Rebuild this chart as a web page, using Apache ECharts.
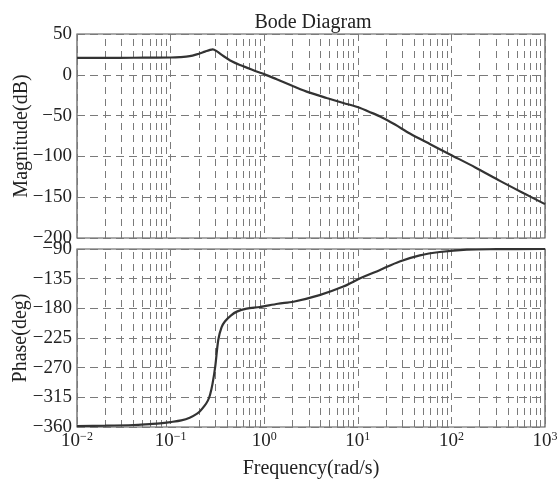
<!DOCTYPE html>
<html>
<head>
<meta charset="utf-8">
<script src="https://cdn.jsdelivr.net/npm/echarts@6/dist/echarts.min.js"></script>
<style>html,body{margin:0;padding:0;background:#fff;}#c{width:557px;height:479px;}</style>
</head>
<body>
<div id="c"></div>
<script>
// ---- data ----
var magFreq = [0.01, 0.02, 0.04, 0.07, 0.1, 0.126, 0.16, 0.19, 0.233, 0.264, 0.282, 0.31, 0.366, 0.45, 0.55, 0.7, 0.83, 1.0, 1.36, 2.05, 3.0, 4.65, 7.0, 10.6, 13, 17.3, 25, 36, 60, 96.6, 180, 330, 600, 1000];
var magDb = [20.8, 20.8, 20.9, 21.0, 21.2, 21.7, 22.8, 25, 28.4, 30.5, 31.2, 29, 23, 16.5, 12, 7.5, 4, 0.8, -5.5, -14, -21.5, -28.4, -34.5, -40.6, -45, -51, -61, -72, -85.3, -97.6, -113.5, -130, -145.5, -158.5];
var phFreq = [0.01, 0.02, 0.04, 0.06, 0.077, 0.1, 0.13, 0.16, 0.19, 0.206, 0.23, 0.25, 0.264, 0.28, 0.3, 0.323, 0.35, 0.38, 0.44, 0.51, 0.65, 0.9, 1.4, 2.05, 3.9, 7.0, 10.6, 17.3, 28, 46, 75, 146, 300, 1000];
var phDeg = [-358.5, -358, -357, -355.5, -354.5, -352.5, -350, -346, -340, -336, -328, -320, -311, -295, -268, -228, -209, -200, -191, -185, -180.5, -178, -173, -170, -160, -147, -134.5, -121.7, -109, -99.7, -94.6, -91, -90.3, -90];
var decades = [0.01, 0.1, 1, 10, 100, 1000];
var magTicks = [-200, -150, -100, -50, 0, 50];
var phTicks = [-360, -315, -270, -225, -180, -135, -90];

var FONT = 'Liberation Serif';
var GRID_COLOR = '#7a7a7a';

function pairs(xs, ys) { return xs.map(function (x, i) { return [x, ys[i]]; }); }
function minorLines() {
  var out = [];
  for (var d = 0; d < decades.length - 1; d++) {
    for (var k = 2; k <= 9; k++) out.push({ xAxis: decades[d] * k });
  }
  return out;
}
function minus(v) { return String(v).replace('-', '\u2212'); }

var chart = echarts.init(document.getElementById('c'), null, { renderer: 'canvas' });

var markLineCfg = {
  silent: true, symbol: ['none', 'none'], label: { show: false },
  lineStyle: { color: GRID_COLOR, type: [7, 5], width: 1 },
  animation: false,
  data: minorLines()
};

var commonX = {
  type: 'log', logBase: 10, min: decades[0], max: decades[decades.length - 1],
  axisLine: { show: false }, axisTick: { show: false },
  splitLine: { show: true, lineStyle: { color: GRID_COLOR, type: [7, 5], width: 1 } }
};

chart.setOption({
  animation: false,
  backgroundColor: '#fff',
  title: {
    text: 'Bode Diagram', left: 308, top: 8, textAlign: 'center',
    textStyle: { fontFamily: FONT, fontSize: 20, fontWeight: 'normal', color: '#222' }
  },
  grid: [
    { left: 77, top: 34, width: 468, height: 204, show: true, borderColor: '#555', borderWidth: 1.2, backgroundColor: 'transparent', containLabel: false, outerBoundsMode: 'none' },
    { left: 77, top: 249, width: 468, height: 178, show: true, borderColor: '#555', borderWidth: 1.2, backgroundColor: 'transparent', containLabel: false, outerBoundsMode: 'none' }
  ],
  xAxis: [
    Object.assign({}, commonX, { gridIndex: 0, axisLabel: { show: false } }),
    Object.assign({}, commonX, {
      gridIndex: 1,
      name: 'Frequency(rad/s)', nameLocation: 'middle', nameGap: 32, nameMoveOverlap: false,
      nameTextStyle: { fontFamily: FONT, fontSize: 20, color: '#222' },
      axisLabel: {
        show: true, margin: 4, hideOverlap: false,
        formatter: function (v) {
          var e = Math.round(Math.log10(v));
          return '{b|10}{s|' + minus(e) + '}';
        },
        rich: {
          b: { fontFamily: FONT, fontSize: 19, color: '#222', lineHeight: 20, verticalAlign: 'bottom' },
          s: { fontFamily: FONT, fontSize: 12, color: '#222', lineHeight: 20, verticalAlign: 'top', padding: [0, 0, 6, 0] }
        }
      }
    })
  ],
  yAxis: [
    {
      type: 'value', gridIndex: 0, min: magTicks[0], max: magTicks[magTicks.length - 1], interval: 50,
      name: 'Magnitude(dB)', nameLocation: 'middle', nameGap: 45, nameRotate: 90, nameMoveOverlap: false,
      nameTextStyle: { fontFamily: FONT, fontSize: 20, color: '#222' },
      axisLine: { show: false }, axisTick: { show: false },
      axisLabel: { fontFamily: FONT, fontSize: 19, color: '#222', margin: 5, formatter: minus, hideOverlap: false },
      splitLine: { show: true, lineStyle: { color: GRID_COLOR, type: [8, 5], width: 1 } }
    },
    {
      type: 'value', gridIndex: 1, min: phTicks[0], max: phTicks[phTicks.length - 1], interval: 45,
      name: 'Phase(deg)', nameLocation: 'middle', nameGap: 46, nameRotate: 90, nameMoveOverlap: false,
      nameTextStyle: { fontFamily: FONT, fontSize: 20, color: '#222' },
      axisLine: { show: false }, axisTick: { show: false },
      axisLabel: { fontFamily: FONT, fontSize: 19, color: '#222', margin: 5, formatter: minus, hideOverlap: false },
      splitLine: { show: true, lineStyle: { color: GRID_COLOR, type: [8, 5], width: 1 } }
    }
  ],
  series: [
    {
      type: 'line', xAxisIndex: 0, yAxisIndex: 0, data: pairs(magFreq, magDb),
      smooth: 0.3, showSymbol: false, symbol: 'none',
      lineStyle: { color: '#333', width: 2.2 }, z: 5,
      markLine: markLineCfg
    },
    {
      type: 'line', xAxisIndex: 1, yAxisIndex: 1, data: pairs(phFreq, phDeg),
      smooth: 0.3, showSymbol: false, symbol: 'none',
      lineStyle: { color: '#333', width: 2.2 }, z: 5,
      markLine: markLineCfg
    }
  ]
});
</script>
</body>
</html>
